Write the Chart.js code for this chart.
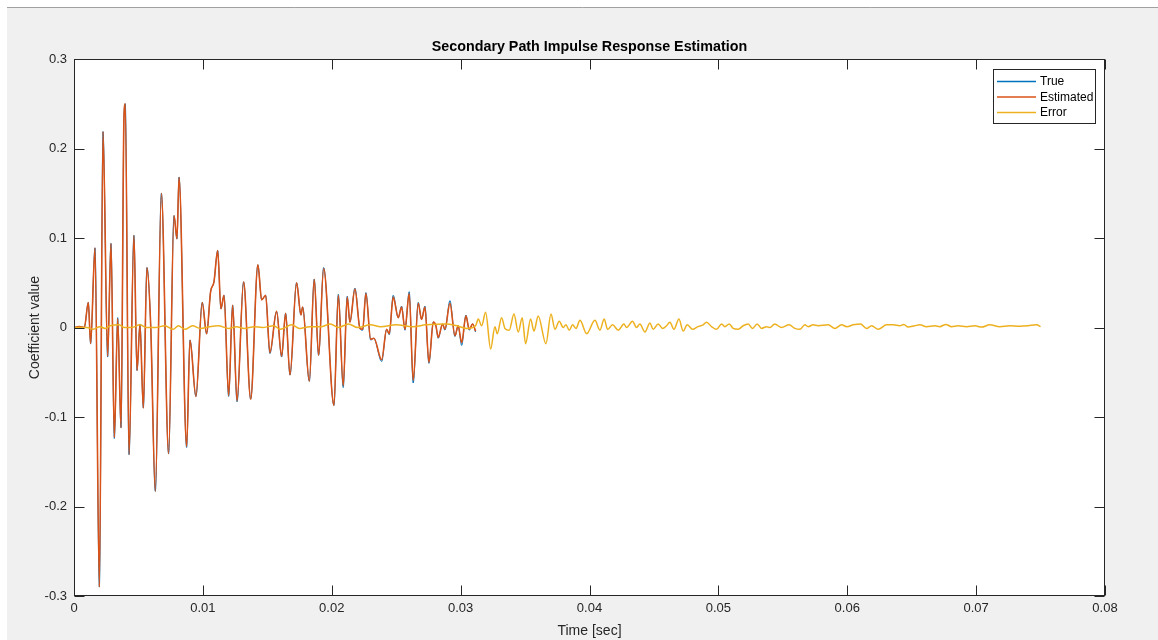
<!DOCTYPE html>
<html>
<head>
<meta charset="utf-8">
<script src="https://cdn.jsdelivr.net/npm/chart.js@4.4.1/dist/chart.umd.min.js"></script>
<style>
  html, body { margin: 0; padding: 0; background: #ffffff; }
  #wrap { position: relative; width: 1158px; height: 640px; }
  canvas { display: block; }
</style>
</head>
<body>
<div id="wrap"><canvas id="c" width="1158" height="640"></canvas></div>
<script>
// ---------------- DATA ----------------
const chartTitle = 'Secondary Path Impulse Response Estimation';
const xAxisTitle = 'Time [sec]';
const yAxisTitle = 'Coefficient value';
const seriesNames = ['True', 'Estimated', 'Error'];

const xTicks = [0, 0.01, 0.02, 0.03, 0.04, 0.05, 0.06, 0.07, 0.08];
const xTickLabels = ['0', '0.01', '0.02', '0.03', '0.04', '0.05', '0.06', '0.07', '0.08'];
const yTicks = [-0.3, -0.2, -0.1, 0, 0.1, 0.2, 0.3];
const yTickLabels = ['-0.3', '-0.2', '-0.1', '0', '0.1', '0.2', '0.3'];

// time (milliseconds) of the read points of the True / Estimated responses
const estTimeMs = [0, 0.4, 0.8, 1.11, 1.29, 1.63, 1.97, 2.25, 2.61, 2.87, 3.13, 3.39, 3.65, 3.88, 3.98,
  4.27, 4.65, 4.89, 5.12, 5.38, 5.66, 5.95, 6.31, 6.78, 7.34, 7.76, 7.99, 8.15, 8.74, 9.0,
  9.46, 9.95, 10.29, 10.6, 10.86, 11.15, 11.4, 11.64, 12.0, 12.31, 12.65, 13.16, 13.71, 14.27,
  14.56, 14.87, 15.2, 15.72, 16.11, 16.42, 16.76, 17.27, 17.61, 17.74, 18.26, 18.64, 18.98,
  19.37, 20.17, 20.51, 20.89, 21.2, 21.41, 21.8, 22.19, 22.4, 22.65, 23.02, 23.27, 23.87,
  24.26, 24.46, 24.77, 25.16, 25.42, 25.68, 26.01, 26.32, 26.71, 26.97, 27.23, 27.54, 27.88,
  28.08, 28.26, 28.6, 28.78, 29.17, 29.56, 29.81, 30.08, 30.41, 30.67, 30.93, 31.16];

const estimatedValues = [0, 0.001, 0, 0.028, -0.018, 0.089, -0.290, 0.219, -0.032, 0.094, -0.123, 0.010, -0.112, 0.237, 0.250,
  -0.142, 0.103, -0.048, 0.003, -0.090, 0.067, 0.003, -0.183, 0.150, -0.141, 0.125, 0.099, 0.168, -0.133, -0.014,
  -0.077, 0.028, -0.007, 0.040, 0.051, 0.086, 0.021, 0.036, -0.076, 0.025, -0.082, 0.051, -0.080, 0.070,
  0.031, 0.036, -0.028, 0.018, -0.032, 0.016, -0.053, 0.050, 0.014, 0.023, -0.060, 0.054, -0.031,
  0.066, -0.087, 0.036, -0.065, 0.034, 0.006, 0.043, -0.001, -0.002, 0.038, -0.013, -0.012, -0.036,
  -0.002, -0.007, 0.034, 0.011, 0.023, -0.002, 0.038, -0.059, 0.027, 0.009, 0.023, -0.039, 0.006,
  0.002, -0.011, 0.004, -0.002, 0.027, -0.009, 0.002, -0.017, 0.013, -0.002, 0.004, -0.004];

const trueValues = [0, 0.001, 0, 0.028, -0.018, 0.089, -0.290, 0.219, -0.033, 0.094, -0.124, 0.011, -0.112, 0.237, 0.250,
  -0.142, 0.103, -0.048, 0.004, -0.090, 0.067, 0.003, -0.183, 0.150, -0.141, 0.125, 0.099, 0.168, -0.134, -0.014,
  -0.077, 0.028, -0.007, 0.040, 0.051, 0.086, 0.021, 0.036, -0.077, 0.025, -0.083, 0.051, -0.080, 0.070,
  0.031, 0.036, -0.029, 0.018, -0.033, 0.016, -0.053, 0.050, 0.014, 0.023, -0.060, 0.054, -0.031,
  0.067, -0.087, 0.037, -0.067, 0.035, 0.006, 0.044, -0.001, -0.003, 0.039, -0.014, -0.012, -0.038,
  -0.002, -0.008, 0.036, 0.011, 0.024, -0.003, 0.040, -0.062, 0.028, 0.009, 0.024, -0.040, 0.006,
  0.002, -0.012, 0.004, -0.003, 0.030, -0.010, 0.002, -0.020, 0.014, -0.003, 0.004, -0.005];

// time (milliseconds) and values of the read points of the Error curve
const errTimeMs = [0, 1.0, 1.5, 2.0, 2.4, 2.8, 3.5, 3.9, 4.5, 5.12, 5.6, 6.3, 7.06, 7.7, 8.1, 8.6, 9.2, 9.8,
  10.5, 11.2, 12.0, 12.6, 13.2, 14.0, 14.6, 15.5, 16.0, 16.9, 17.5, 18.3, 19.2, 19.9, 20.5, 21.3,
  22.0, 23.0, 23.8, 25.0, 26.3, 27.3, 28.9, 29.7, 30.5, 31.16,
  31.37, 31.63, 31.94, 32.33, 32.66, 32.84, 33.18, 33.44, 33.77, 34.14, 34.47, 34.78, 35.04,
  35.43, 35.69, 36.02, 36.62, 37.01, 37.32, 37.65, 37.96, 38.17, 38.43, 38.69, 38.95, 39.26,
  39.78, 40.42, 40.81, 41.14, 41.40, 41.79, 42.23, 42.67, 42.88, 43.34, 43.65, 43.91, 44.30,
  44.69, 44.94, 45.33, 45.67, 45.98, 46.24, 46.55, 46.94, 47.27, 47.58, 48.0, 48.41, 48.82,
  49.08, 49.47, 49.86, 50.25, 50.50, 50.84, 51.15, 51.54, 51.92, 52.31, 52.65, 53.01, 53.35,
  53.74, 54.0, 54.38, 54.90, 55.49, 55.94, 56.32, 56.71, 56.97, 57.35, 57.74, 58.52, 59.04,
  59.56, 59.97, 60.46, 61.03, 61.50, 61.89, 62.40, 63.05, 63.56, 64.08, 64.39, 64.72, 65.24,
  65.63, 66.15, 66.80, 67.18, 67.65, 68.09, 68.60, 69.26, 69.90, 70.42, 71.06, 71.84, 72.61,
  73.39, 74.03, 74.69, 75.0];

const errorValues = [0, 0, -0.002, 0.001, -0.001, 0.002, 0.003, 0, 0, 0.003, 0, 0, 0.002, -0.002, 0.002, -0.002, 0.002, -0.001,
  0.001, 0.002, -0.001, 0.001, -0.001, 0.001, 0, 0.002, -0.002, 0.003, -0.001, 0.001, 0.001, 0.004, 0, 0.004,
  0, 0.003, 0.001, 0.003, 0.001, 0.003, 0.004, 0.002, -0.001, 0.002,
  0.0095, 0.002, 0.017, -0.024, 0.001, -0.007, 0.011, -0.001, -0.003, 0.015, -0.005, 0.011, -0.018,
  0.0095, -0.004, 0.013, -0.018, 0.015, -0.002, 0.007, 0, 0.003, -0.003, 0.003, -0.001, 0.008,
  -0.007, 0.008, -0.003, 0.0095, -0.002, 0.003, -0.003, 0.004, 0, 0.007, 0, 0.004, -0.005,
  0.005, -0.002, 0.004, -0.001, 0.002, 0.006, -0.002, 0.0095, -0.004, 0.003, -0.002, 0.001, 0.003,
  0.006, 0.001, -0.002, 0.004, 0.001, 0.004, -0.001, -0.002, 0.002, 0.004, -0.001, 0.004, -0.001,
  0.001, 0, 0.004, 0, 0.003, -0.001, -0.002, 0.003, 0.001, 0.003, 0.002, 0.003, -0.001,
  0.003, 0.001, 0.003, 0.004, -0.001, 0.002, -0.002, 0.003, 0.003, 0.002, 0.0035, 0.0005, 0.002,
  0.003, 0.001, 0.002, 0.001, 0.0035, 0.001, 0.002, 0.001, 0.002, 0.0005, 0.003, 0.001, 0.002,
  0.0015, 0.002, 0.003, 0.001];

const seriesColors = ['#0072BD', '#D95319', '#EDB120'];

// ---------------- BUILD ----------------
const toPoints = (tms, vals) => tms.map((t, i) => ({ x: t / 1000, y: vals[i] }));
const AX = '#262626';
const FONT = "'Liberation Sans', Arial, Helvetica, sans-serif";

const framePlugin = {
  id: 'frame',
  beforeDraw(chart) {
    const ctx = chart.ctx, a = chart.chartArea;
    ctx.save();
    ctx.fillStyle = '#ffffff';
    ctx.fillRect(0, 0, chart.width, chart.height);
    ctx.fillStyle = '#f0f0f0';
    ctx.fillRect(7, 7, chart.width - 7, chart.height - 7);
    ctx.strokeStyle = '#a0a0a0';
    ctx.lineWidth = 1;
    ctx.beginPath(); ctx.moveTo(7, 7.5); ctx.lineTo(chart.width, 7.5); ctx.stroke();
    ctx.fillStyle = '#ffffff';
    ctx.fillRect(a.left, a.top, a.right - a.left, a.bottom - a.top);
    ctx.restore();
  },
  afterDraw(chart) {
    const ctx = chart.ctx, a = chart.chartArea;
    const xs = chart.scales.x, ys = chart.scales.y;
    const L = Math.round(a.left) + 0.5, R = Math.round(a.right) - 0.5;
    const T = Math.round(a.top) + 0.5, B = Math.round(a.bottom) - 0.5;
    ctx.save();
    ctx.strokeStyle = AX;
    ctx.lineWidth = 1;
    ctx.strokeRect(L, T, R - L, B - T);
    const tl = 10;
    ctx.beginPath();
    xs.ticks.forEach(t => {
      const px = Math.round(xs.getPixelForValue(t.value)) + 0.5;
      ctx.moveTo(px, B); ctx.lineTo(px, B - tl);
      ctx.moveTo(px, T); ctx.lineTo(px, T + tl);
    });
    ys.ticks.forEach(t => {
      const py = Math.round(ys.getPixelForValue(t.value)) + 0.5;
      ctx.moveTo(L, py); ctx.lineTo(L + tl, py);
      ctx.moveTo(R, py); ctx.lineTo(R - tl, py);
    });
    ctx.stroke();

    // legend box (MATLAB style, top-right inside the axes)
    const lx = 993.5, ly = 69.5, lw = 102, lh = 54;
    ctx.fillStyle = '#ffffff';
    ctx.fillRect(lx, ly, lw, lh);
    ctx.strokeStyle = AX;
    ctx.strokeRect(lx, ly, lw, lh);
    ctx.font = "12px " + FONT;
    ctx.textBaseline = 'middle';
    ctx.textAlign = 'left';
    chart.data.datasets.forEach((ds, i) => {
      const y = 81.5 + i * 15.5;
      ctx.strokeStyle = ds.borderColor;
      ctx.lineWidth = 1.5;
      ctx.beginPath(); ctx.moveTo(997, y); ctx.lineTo(1036, y); ctx.stroke();
      ctx.fillStyle = '#000000';
      ctx.fillText(ds.label, 1040, y + 0.5);
    });
    ctx.restore();
  }
};

new Chart(document.getElementById('c'), {
  type: 'line',
  data: {
    datasets: [
      { label: seriesNames[0], data: toPoints(estTimeMs, trueValues), borderColor: seriesColors[0], borderWidth: 1, order: 3 },
      { label: seriesNames[1], data: toPoints(estTimeMs, estimatedValues), borderColor: seriesColors[1], borderWidth: 1.6, order: 2 },
      { label: seriesNames[2], data: toPoints(errTimeMs, errorValues), borderColor: seriesColors[2], borderWidth: 1.5, order: 1 }
    ]
  },
  options: {
    responsive: false,
    animation: false,
    events: [],
    elements: {
      line: { cubicInterpolationMode: 'monotone', fill: false },
      point: { radius: 0, hoverRadius: 0 }
    },
    layout: { padding: { left: 7, top: 8, right: 53, bottom: 0 } },
    plugins: {
      legend: { display: false },
      tooltip: { enabled: false },
      title: {
        display: true,
        fullSize: false,
        text: chartTitle,
        color: '#000000',
        font: { family: FONT, size: 14.3, weight: 'bold', lineHeight: 1.2 },
        padding: { top: 30, bottom: 3.9 }
      }
    },
    scales: {
      x: {
        type: 'linear',
        min: 0, max: 0.08,
        afterBuildTicks: s => { s.ticks = xTicks.map(v => ({ value: v })); },
        afterFit: s => { s.height = 44; },
        grid: { display: false, drawTicks: false },
        border: { display: false },
        ticks: {
          color: AX, padding: 5, maxRotation: 0, autoSkip: false,
          font: { family: FONT, size: 13 },
          callback: (v, i) => xTickLabels[i]
        },
        title: {
          display: true, text: xAxisTitle, color: AX,
          font: { family: FONT, size: 14 }, padding: { top: 0, bottom: 0 }
        }
      },
      y: {
        type: 'linear',
        min: -0.3, max: 0.3,
        afterBuildTicks: s => { s.ticks = yTicks.map(v => ({ value: v })); },
        afterFit: s => { s.width = 67; },
        grid: { display: false, drawTicks: false },
        border: { display: false },
        ticks: {
          color: AX, padding: 7, autoSkip: false,
          font: { family: FONT, size: 13 },
          callback: (v, i) => yTickLabels[i]
        },
        title: {
          display: true, text: yAxisTitle, color: AX,
          font: { family: FONT, size: 14 }, padding: { top: 20, bottom: 0 }
        }
      }
    }
  },
  plugins: [framePlugin]
});
</script>
</body>
</html>
